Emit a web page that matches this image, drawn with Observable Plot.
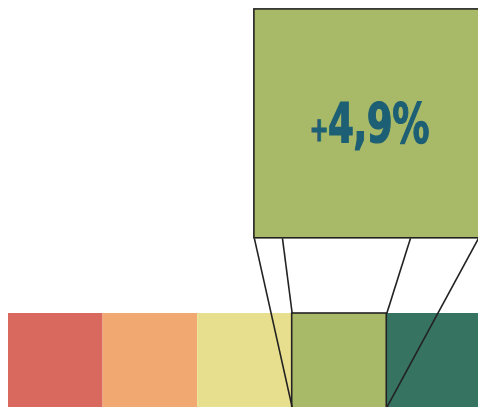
<!DOCTYPE html>
<html>
<head>
<meta charset="utf-8">
<script src="https://cdn.jsdelivr.net/npm/d3@7"></script>
<script src="https://cdn.jsdelivr.net/npm/@observablehq/plot@0.6"></script>
<style>
  html, body { margin: 0; padding: 0; background: #fff; overflow: hidden; }
  #chart svg { display: block; }
</style>
</head>
<body>
<div id="chart"></div>
<script>
// ---- data ----
const categories = ["1", "2", "3", "4", "5"];
const colors = ["#D9685E", "#F2A971", "#E8DF8E", "#A8B967", "#377361"];
const highlightIndex = 3;
const highlightLabel = "+4,9%";

// ---- layout (in chart units: one bar = 1 unit wide, 1 unit tall) ----
const zoomBox = {x1: 2.60, x2: 5.03, y1: 1.80, y2: 4.235};
const innerTop = [2.897, 4.251];   // where inner guide lines meet the box
const ink = "#222";

const bars = categories.map((c, i) => ({cat: c, i, color: colors[i]}));
const hi = bars[highlightIndex];

const links = [
  {x1: zoomBox.x1, y1: zoomBox.y1, x2: hi.i, y2: 0},
  {x1: zoomBox.x2 - 0.06, y1: zoomBox.y1, x2: hi.i + 1, y2: 0},
  {x1: innerTop[0], y1: zoomBox.y1, x2: hi.i, y2: 1},
  {x1: innerTop[1], y1: zoomBox.y1, x2: hi.i + 1, y2: 1}
];

const plot = Plot.plot({
  width: 478,
  height: 407,
  margin: 0,
  marginLeft: 8,
  x: {domain: [0, 4.97], axis: null},
  y: {domain: [0, 407 / 94], axis: null},
  marks: [
    Plot.rect(bars, {x1: "i", x2: d => d.i + 1, y1: -0.2, y2: 1, fill: "color", clip: true}),
    Plot.rect([hi], {x1: "i", x2: d => d.i + 1, y1: -0.2, y2: 1, fill: "none", stroke: ink, strokeWidth: 1.6, clip: true}),
    Plot.link(links, {x1: "x1", y1: "y1", x2: "x2", y2: "y2", stroke: ink, strokeWidth: 1.6, clip: true}),
    Plot.rect([zoomBox], {x1: "x1", x2: "x2", y1: "y1", y2: "y2", fill: hi.color, stroke: ink, strokeWidth: 1.6}),
    Plot.text([highlightLabel], {
      x: (zoomBox.x1 + zoomBox.x2) / 2,
      y: (zoomBox.y1 + zoomBox.y2) / 2,
      text: d => d,
      fill: "#1D5F74",
      fontSize: 56,
      fontWeight: "bold",
      fontFamily: "'Liberation Sans Narrow', 'DejaVu Sans Condensed', sans-serif",
      textAnchor: "middle",
      lineAnchor: "middle"
    })
  ]
});

// condense the label and make the sign smaller, like the reference
d3.select(plot).selectAll("text").each(function() {
  const t = d3.select(this);
  const s = t.text();
  if (s.startsWith("+")) {
    t.text("");
    t.attr("letter-spacing", "-0.8").attr("stroke", "#1D5F74").attr("stroke-width", 1.2);
    t.attr("transform", (t.attr("transform") || "") + " scale(0.74,1)");
    t.append("tspan").attr("font-size", 34).attr("dy", "-0.02em").text("+");
    t.append("tspan").attr("dy", "0.02em").text(s.slice(1));
  }
});

document.getElementById("chart").appendChild(plot);
</script>
</body>
</html>
